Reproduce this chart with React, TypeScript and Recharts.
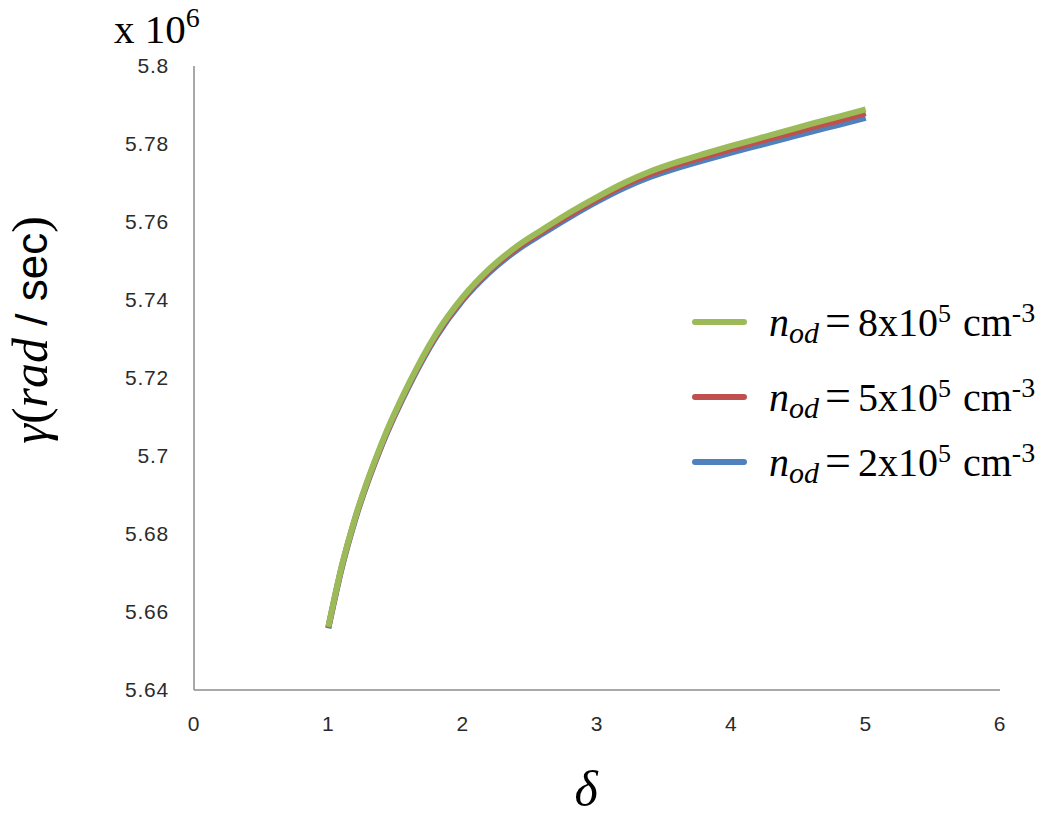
import React from 'react';
import { LineChart, Line, XAxis, YAxis, Legend } from 'recharts';

const delta = [1, 1.1, 1.2, 1.4, 1.6, 1.8, 2, 2.2, 2.4, 2.6, 2.8, 3, 3.2, 3.4, 3.6, 3.8, 4, 4.2, 4.4, 4.6, 4.8, 5];
const nod8 = [5.6562, 5.6718, 5.6842, 5.7035, 5.7186, 5.7312, 5.7407, 5.748, 5.7537, 5.7582, 5.7625, 5.7664, 5.77, 5.773, 5.7754, 5.7775, 5.7795, 5.7814, 5.7833, 5.7852, 5.787, 5.7889];
const nod5 = [5.656, 5.6716, 5.684, 5.7032, 5.7183, 5.7308, 5.7403, 5.7476, 5.7532, 5.7577, 5.7619, 5.7658, 5.7694, 5.7723, 5.7747, 5.7767, 5.7787, 5.7806, 5.7824, 5.7843, 5.786, 5.7879];
const nod2 = [5.6558, 5.6713, 5.6837, 5.7029, 5.7179, 5.7304, 5.7399, 5.7471, 5.7527, 5.7571, 5.7613, 5.7652, 5.7687, 5.7716, 5.7739, 5.7759, 5.7778, 5.7796, 5.7814, 5.7832, 5.7849, 5.7867];

const xTicks = [0, 1, 2, 3, 4, 5, 6];
const yTicks = [5.64, 5.66, 5.68, 5.7, 5.72, 5.74, 5.76, 5.78, 5.8];
const yTickLabels = ['5.64', '5.66', '5.68', '5.7', '5.72', '5.74', '5.76', '5.78', '5.8'];

const seriesNames = ['8', '5', '2'];
const seriesColors = ['#9BBB59', '#C0504D', '#4F81BD'];

const data = delta.map((d, i) => ({ d, g: nod8[i], r: nod5[i], b: nod2[i] }));

const serif = '"Liberation Serif", "Times New Roman", serif';
const sans = '"Liberation Sans", Arial, sans-serif';

const legendTops = [322, 397, 462];

const renderLegend = () => (
  <div style={{ position: 'relative', width: 360, height: 200 }}>
    {seriesNames.map((n, i) => (
      <div key={n} style={{ position: 'absolute', left: 0, top: legendTops[i] - 300 - 25, height: 50, display: 'flex', alignItems: 'center' }}>
        <div style={{ width: 55, height: 6, borderRadius: 3, background: seriesColors[i], marginRight: 22 }} />
        <span style={{ fontFamily: serif, fontSize: 40, color: '#000', whiteSpace: 'nowrap', lineHeight: '50px' }}>
          <i>n</i>
          <sub style={{ fontStyle: 'italic', fontSize: 30, verticalAlign: '-7px', lineHeight: 0 }}>od</sub>
          <span style={{ fontSize: 46, marginLeft: 6, marginRight: 7 }}>=</span>
          {n + 'x10'}
          <sup style={{ fontSize: 26, verticalAlign: '14px', lineHeight: 0 }}>5</sup>
          <span style={{ marginLeft: 12 }}>cm</span>
          <sup style={{ fontSize: 28, verticalAlign: '14px', lineHeight: 0 }}>-3</sup>
        </span>
      </div>
    ))}
  </div>
);

const YLabel = () => (
  <g>
    <text x={0} y={0} transform="translate(47, 330) rotate(-90)" textAnchor="middle" fontSize={50} fill="#000">
      <tspan fontFamily={serif} fontStyle="italic">γ</tspan>
      <tspan fontFamily={serif}>(</tspan>
      <tspan fontFamily={serif} fontStyle="italic">rad</tspan>
      <tspan fontFamily={sans} fontSize={44}> / sec</tspan>
      <tspan fontFamily={serif}>)</tspan>
    </text>
    <text x={114} y={43} fontFamily={serif} fontSize={41} fill="#000">
      x 10<tspan fontSize={28} dy={-16}>6</tspan>
    </text>
  </g>
);

const XLabel = () => (
  <text x={586} y={806} textAnchor="middle" fontFamily={serif} fontStyle="italic" fontSize={50} fill="#000">δ</text>
);

const tickStyle = { fontFamily: sans, fontSize: 21, fill: '#2b2b2b', letterSpacing: 0.8 };

export default function App() {
  return (
    <div style={{ position: 'absolute', left: 0, top: 0, width: 1050, height: 823, background: '#fff' }}>
      <LineChart width={1050} height={823} data={data} margin={{ top: 66, right: 50, bottom: 93, left: 134 }}>
        <XAxis
          dataKey="d"
          type="number"
          domain={[0, 6]}
          ticks={xTicks}
          tickLine={false}
          tickSize={0}
          tickMargin={26}
          height={40}
          axisLine={{ stroke: '#8c8c8c', strokeWidth: 1.5 }}
          tick={tickStyle}
          label={<XLabel />}
        />
        <YAxis
          type="number"
          domain={[5.64, 5.8]}
          ticks={yTicks}
          tickFormatter={(v: number) => yTickLabels[yTicks.indexOf(v)] ?? String(v)}
          tickLine={false}
          tickSize={0}
          tickMargin={25}
          width={60}
          axisLine={{ stroke: '#8c8c8c', strokeWidth: 1.5 }}
          tick={tickStyle}
          label={<YLabel />}
          allowDataOverflow
        />
        <Legend
          content={renderLegend}
          layout="vertical"
          align="center"
          verticalAlign="middle"
          wrapperStyle={{ position: 'absolute', left: 692, top: 300, width: 360, height: 200 }}
        />
        <Line dataKey="b" type="monotone" stroke={seriesColors[2]} strokeWidth={6} dot={false} isAnimationActive={false} legendType="none" />
        <Line dataKey="r" type="monotone" stroke={seriesColors[1]} strokeWidth={6} dot={false} isAnimationActive={false} legendType="none" />
        <Line dataKey="g" type="monotone" stroke={seriesColors[0]} strokeWidth={6} dot={false} isAnimationActive={false} legendType="none" />
      </LineChart>
    </div>
  );
}
